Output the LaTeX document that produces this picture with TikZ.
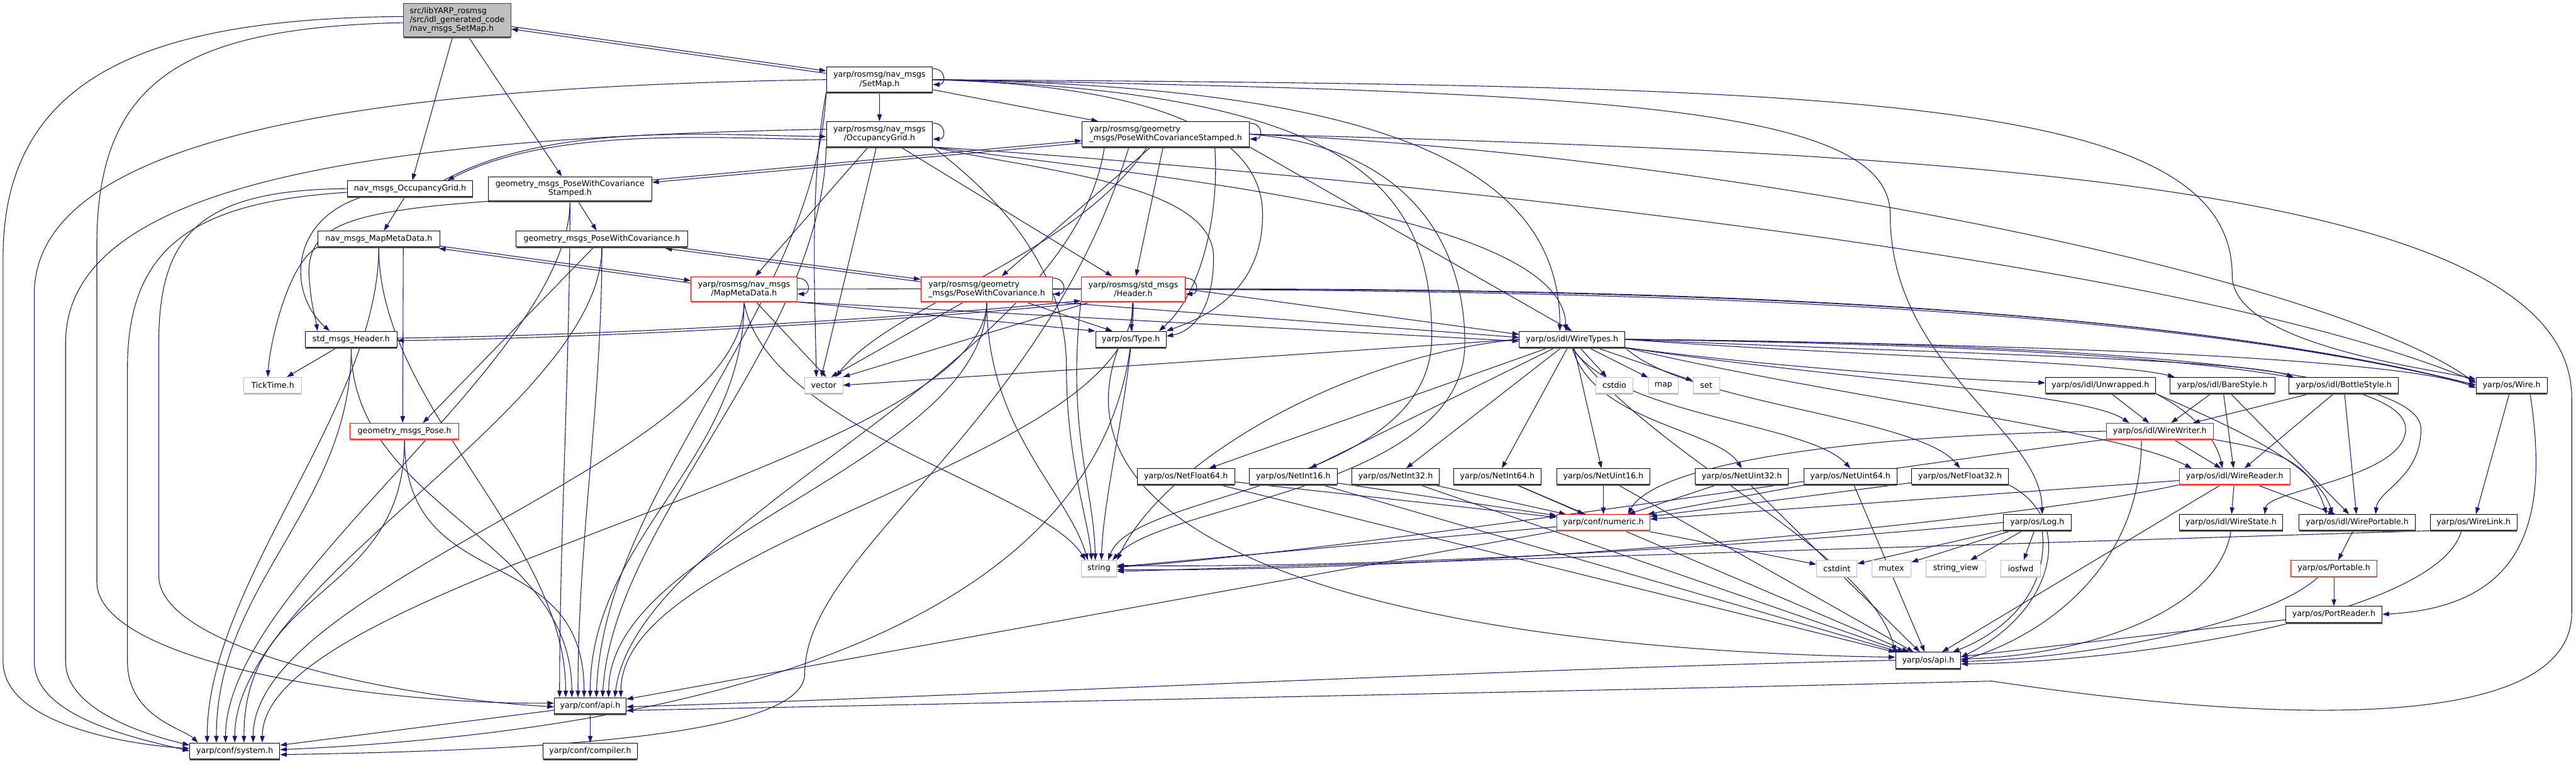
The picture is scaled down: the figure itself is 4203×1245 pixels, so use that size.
\documentclass[tikz,border=0pt]{standalone}
\usepackage{fontspec}
\setmainfont{DejaVu Sans}
\usetikzlibrary{arrows.meta,shadows}
\pgfdeclarelayer{edges}
\pgfsetlayers{edges,main}

\definecolor{edgeblue}{HTML}{191970}
\definecolor{sysgray}{HTML}{BFBFBF}

\tikzset{
  boxbase/.style={fill=white, line width=1pt, inner sep=2pt, minimum height=26pt,
    font=\fontsize{13}{14.5}\selectfont, align=center},
  hdr/.style={boxbase, draw=black,
    drop shadow={shadow xshift=0pt, shadow yshift=-2.5pt, fill=black!65, opacity=1}},
  hdrred/.style={boxbase, draw=red,
    drop shadow={shadow xshift=0pt, shadow yshift=-2.5pt, fill=red!55, opacity=1}},
  hdrsys/.style={boxbase, draw=sysgray,
    drop shadow={shadow xshift=0pt, shadow yshift=-2.5pt, fill=sysgray, opacity=1}},
  hdrroot/.style={boxbase, draw=black!75, fill=sysgray,
    drop shadow={shadow xshift=0pt, shadow yshift=-2.5pt, fill=black!65, opacity=1}},
  two/.style={minimum height=41pt},
  wd/.style={minimum width=#1},
  dep/.style={draw=edgeblue, line width=1.1pt, -{Triangle[length=11pt,width=7.5pt]}},
}

\begin{document}
\begin{tikzpicture}[x=1pt,y=1pt]
    \useasboundingbox (0,0) rectangle (4203,-1245);

    % --- 根节点与 yarp/rosmsg 头文件 ---
    \node[hdrroot, wd=175pt, minimum height=55pt, align=left] (root) at (746,-33)
      {src/libYARP\_rosmsg\\/src/idl\_generated\_code\\/nav\_msgs\_SetMap.h};
    \node[hdr, two, wd=173pt] (ySet) at (1435,-130) {yarp/rosmsg/nav\_msgs\\/SetMap.h};
    \node[hdr, two, wd=173pt] (yOcc) at (1435,-219) {yarp/rosmsg/nav\_msgs\\/OccupancyGrid.h};
    \node[hdr, two, wd=273pt, align=left] (yPWCS) at (1902,-219)
      {yarp/rosmsg/geometry\\\_msgs/PoseWithCovarianceStamped.h};

    % --- 旧式头文件 ---
    \node[hdr, wd=205pt] (nOcc) at (669,-308) {nav\_msgs\_OccupancyGrid.h};
    \node[hdr, wd=267pt, minimum height=39pt] (nPWCS) at (930,-308)
      {geometry\_msgs\_PoseWithCovariance\\Stamped.h};
    \node[hdr, wd=199pt] (nMMD) at (618,-390) {nav\_msgs\_MapMetaData.h};
    \node[hdr, wd=280pt] (nPWC) at (982,-390) {geometry\_msgs\_PoseWithCovariance.h};
    \node[hdrred, two, wd=173pt] (yMMD) at (1214,-472) {yarp/rosmsg/nav\_msgs\\/MapMetaData.h};
    \node[hdrred, two, wd=215pt, align=left] (yPWC) at (1610,-472)
      {yarp/rosmsg/geometry\\\_msgs/PoseWithCovariance.h};
    \node[hdrred, two, wd=170pt] (yHeader) at (1849,-472) {yarp/rosmsg/std\_msgs\\/Header.h};
    \node[hdr, wd=149pt] (nHeader) at (573,-554) {std\_msgs\_Header.h};
    \node[hdr, wd=115pt] (Type) at (1845,-554) {yarp/os/Type.h};
    \node[hdr, wd=172pt] (WireTypes) at (2565,-554) {yarp/os/idl/WireTypes.h};

    % --- 中间层 ---
    \node[hdrsys, wd=94pt] (TickTime) at (445,-629) {TickTime.h};
    \node[hdrsys, wd=62pt] (vector) at (1344,-629) {vector};
    \node[hdrsys, wd=61pt] (cstdio) at (2634,-629) {cstdio};
    \node[hdrsys, wd=49pt] (map) at (2714,-629) {map};
    \node[hdrsys, wd=43pt] (set) at (2784,-629) {set};
    \node[hdr, wd=179pt] (Unwrapped) at (3427,-629) {yarp/os/idl/Unwrapped.h};
    \node[hdr, wd=171pt] (BareStyle) at (3626,-629) {yarp/os/idl/BareStyle.h};
    \node[hdr, wd=179pt] (BottleStyle) at (3824,-629) {yarp/os/idl/BottleStyle.h};
    \node[hdr, wd=116pt] (Wire) at (4098,-629) {yarp/os/Wire.h};
    \node[hdrred, wd=177pt] (nPose) at (660,-704) {geometry\_msgs\_Pose.h};
    \node[hdrred, wd=174pt] (WireWriter) at (3524,-704) {yarp/os/idl/WireWriter.h};
    \foreach \n/\x/\w in {NetFloat64/1935/159pt, NetInt16/2110/143pt, NetInt32/2277/143pt,
        NetInt64/2443/143pt, NetUint16/2616/152pt, NetUint32/2842/152pt,
        NetUint64/3019/152pt, NetFloat32/3198/158pt}
      \node[hdr, wd=\w] (\n) at (\x,-778) {yarp/os/\n.h};
    \node[hdrred, wd=181pt] (WireReader) at (3646,-778) {yarp/os/idl/WireReader.h};

    % --- 底层 ---
    \node[hdrred, wd=152pt] (numeric) at (2616,-853) {yarp/conf/numeric.h};
    \node[hdr, wd=111pt] (Log) at (3324,-853) {yarp/os/Log.h};
    \node[hdr, wd=169pt] (WireState) at (3640,-853) {yarp/os/idl/WireState.h};
    \node[hdr, wd=190pt] (WirePortable) at (3846,-853) {yarp/os/idl/WirePortable.h};
    \node[hdr, wd=142pt] (WireLink) at (4036,-853) {yarp/os/WireLink.h};
    \node[hdrsys, wd=58pt] (string) at (1793,-928) {string};
    \node[hdrsys, wd=66pt] (cstdint) at (2997,-928) {cstdint};
    \node[hdrsys, wd=64pt] (mutex) at (3086,-928) {mutex};
    \node[hdrsys, wd=97pt] (stringview) at (3191,-928) {string\_view};
    \node[hdrsys, wd=65pt] (iosfwd) at (3297,-928) {iosfwd};
    \node[hdrred, wd=140pt] (Portable) at (3808,-928) {yarp/os/Portable.h};
    \node[hdr, wd=157pt] (PortReader) at (3808,-1003) {yarp/os/PortReader.h};
    \node[hdr, wd=106pt] (osapi) at (3146,-1078) {yarp/os/api.h};
    \node[hdr, wd=117pt] (confapi) at (963,-1152) {yarp/conf/api.h};
    \node[hdr, wd=147pt] (system) at (383,-1226) {yarp/conf/system.h};
    \node[hdr, wd=153pt] (compiler) at (963,-1226) {yarp/conf/compiler.h};

    \begin{pgfonlayer}{edges}
    % --- 自包含回环 ---
    \foreach \n in {ySet,yOcc,yPWCS,yMMD,yPWC,yHeader}
      \draw[dep] ([yshift=-3pt]\n.north east) .. controls +(22,0) and +(22,0) .. ([yshift=-8pt]\n.east);

    % --- 互相包含 (双线) ---
    \foreach \a/\b in {root/ySet, nPWCS/yPWCS, nMMD/yMMD, nPWC/yPWC}{
      \draw[dep, transform canvas={yshift=2pt}] (\a) -- (\b);
      \draw[dep, transform canvas={yshift=-2pt}] (\b) -- (\a);
    }
    \draw[dep] ([xshift=-48pt]nOcc.north east) .. controls (900,-200) and (1150,-220) .. ([yshift=-4pt]yOcc.west);
    \draw[dep] ([yshift=-9pt]yOcc.west) .. controls (1150,-225) and (900,-208) .. ([xshift=-42pt]nOcc.north east);
    \draw[dep, transform canvas={yshift=2pt}] (nHeader.east) .. controls (1000,-550) and (1500,-520) .. (yHeader.south west);
    \draw[dep, transform canvas={yshift=-2pt}] (yHeader.south west) .. controls (1500,-520) and (1000,-550) .. (nHeader.east);

    % --- 根节点 / 旧式头文件之间 ---
    \draw[dep] (root) -- (nOcc);
    \draw[dep] (root) -- (nPWCS);
    \draw[dep] (nOcc) -- (nMMD);
    \draw[dep] ([xshift=25pt]nOcc.south west) .. controls (470,-360) and (470,-480) .. ([xshift=-35pt]nHeader.north);
    \draw[dep] (nPWCS) -- (nPWC);
    \draw[dep] ([xshift=10pt]nPWCS.south west) .. controls (560,-345) and (495,-370) .. (505,-460)
      .. controls (508,-500) and (515,-520) .. ([xshift=-55pt]nHeader.north);
    \draw[dep] ([xshift=40pt]nMMD.south) -- ([xshift=-3pt]nPose.north);
    \draw[dep] (nMMD.south west) .. controls (470,-430) and (440,-560) .. ([xshift=-8pt]TickTime.north);
    \draw[dep] (nPWC) -- ([xshift=30pt]nPose.north);
    \draw[dep] (nHeader) -- (TickTime);

    % --- yarp/rosmsg 头文件之间 ---
    \draw[dep] (ySet) -- (yOcc);
    \draw[dep] (ySet) -- (yPWCS);
    \draw[dep] (yOcc) -- (yMMD);
    \draw[dep] (yOcc) -- (yHeader);
    \draw[dep] (yPWCS) -- (yPWC);
    \draw[dep] (yPWCS) -- (yHeader);

    % --- 到 yarp/conf/system.h ---
    \draw[dep] ([yshift=6pt]root.west) .. controls (250,-30) and (5,-120) .. (5,-420) -- (5,-1080)
      .. controls (5,-1180) and (200,-1215) .. ([yshift=4pt]system.west);
    \draw[dep] (ySet.west) .. controls (700,-140) and (56,-200) .. (56,-480) -- (56,-1080)
      .. controls (56,-1170) and (220,-1205) .. (system.west);
    \draw[dep] ([yshift=8pt]yOcc.west) .. controls (600,-225) and (107,-300) .. (107,-560) -- (107,-1080)
      .. controls (107,-1160) and (240,-1200) .. ([yshift=-4pt]system.north west);
    \draw[dep] ([yshift=-6pt]nOcc.west) .. controls (320,-330) and (208,-400) .. (208,-600) -- (208,-1080)
      .. controls (208,-1170) and (300,-1190) .. ([xshift=-60pt]system.north);
    \foreach \s/\d in {nMMD/-45pt, nHeader/-30pt, nPWCS/-15pt, nPWC/0pt, nPose/15pt, yMMD/30pt, yPWC/45pt}
      \draw[dep] (\s.south) .. controls +(0,-260) and +(0,260) .. ([xshift=\d]system.north);
    \draw[dep] (yHeader.south) .. controls (1849,-1000) and (1200,-1190) .. ([yshift=2pt]system.east);
    \draw[dep] ([xshift=-60pt]yPWCS.south) .. controls (1700,-700) and (1313,-900) .. (1313,-1100)
      .. controls (1313,-1200) and (900,-1225) .. ([yshift=-6pt]system.east);
    \draw[dep] (confapi) -- (system);
    \draw[dep] (confapi) -- (compiler);

    % --- 到 yarp/conf/api.h ---
    \draw[dep] ([yshift=-4pt]root.west) .. controls (300,-45) and (158,-130) .. (158,-400) -- (158,-950)
      .. controls (158,-1080) and (600,-1150) .. ([yshift=4pt]confapi.west);
    \draw[dep] (nOcc.west) .. controls (330,-310) and (259,-380) .. (259,-560) -- (259,-940)
      .. controls (259,-1060) and (650,-1140) .. ([yshift=-2pt]confapi.west);
    \foreach \s/\d in {nPWCS/-50pt, nMMD/-40pt, nHeader/-30pt, nPWC/-20pt, nPose/-10pt, yMMD/0pt,
        yPWC/30pt, yHeader/50pt}
      \draw[dep] (\s.south) .. controls +(0,-260) and +(0,260) .. ([xshift=\d]confapi.north);
    \draw[dep] (ySet.south west) .. controls (1330,-500) and (985,-800) .. ([xshift=10pt]confapi.north);
    \draw[dep] (yOcc.south west) .. controls (1340,-560) and (1000,-850) .. ([xshift=20pt]confapi.north);
    \draw[dep] ([xshift=-100pt]yPWCS.south) .. controls (1750,-600) and (1040,-850) .. ([xshift=40pt]confapi.north);
    \draw[dep] (yPWCS.east) .. controls (3200,-250) and (4196,-300) .. (4196,-650) -- (4196,-1000)
      .. controls (4196,-1200) and (3700,-1180) .. (3250,-1112)
      .. controls (2500,-1130) and (1500,-1150) .. ([yshift=-8pt]confapi.east);
    \draw[dep] (numeric) -- (confapi);
    \draw[dep] (osapi.west) .. controls (2500,-1090) and (1500,-1140) .. ([yshift=-2pt]confapi.east);

    % --- 到 vector ---
    \draw[dep] (ySet.south west) .. controls (1320,-300) and (1330,-500) .. ([xshift=-12pt]vector.north);
    \draw[dep] (yOcc) -- ([xshift=-4pt]vector.north);
    \draw[dep] (yMMD) -- ([xshift=4pt]vector.north);
    \draw[dep] (yPWC) -- ([xshift=12pt]vector.north);
    \draw[dep] (yHeader) -- (vector.north east);
    \draw[dep] ([xshift=-30pt]yPWCS.south) .. controls (1750,-420) and (1450,-500) .. ([xshift=20pt]vector.north);
    \draw[dep] (WireTypes.west) -- (vector.east);

    % --- 到 string ---
    \draw[dep] (ySet.east) .. controls (2200,-150) and (2336,-300) .. (2336,-550)
      .. controls (2336,-800) and (1850,-800) .. ([xshift=15pt]string.north);
    \draw[dep] (yOcc.south east) .. controls (1600,-300) and (1740,-420) .. (1740,-600)
      .. controls (1740,-750) and (1776,-850) .. ([xshift=-12pt]string.north);
    \draw[dep] (yMMD.south) .. controls (1250,-700) and (1700,-800) .. ([xshift=-22pt]string.north);
    \draw[dep] (yPWC.south) .. controls (1610,-700) and (1740,-800) .. ([xshift=-18pt]string.north);
    \draw[dep] (yHeader.south west) .. controls (1740,-700) and (1785,-800) .. ([xshift=-6pt]string.north);
    \draw[dep] (Type.south) .. controls (1830,-700) and (1800,-820) .. ([xshift=4pt]string.north);
    \draw[dep] (yPWCS.east) .. controls (2300,-240) and (2390,-400) .. (2390,-560)
      .. controls (2390,-800) and (1900,-820) .. ([xshift=22pt]string.north);
    \draw[dep] (WireTypes.west) .. controls (2200,-580) and (1900,-750) .. (string.north east);
    \draw[dep] (numeric) -- (string);
    \draw[dep] (WireWriter.south west) .. controls (3100,-760) and (2200,-900) .. ([yshift=2pt]string.east);
    \draw[dep] (WireReader.south west) .. controls (3300,-850) and (2400,-935) .. ([yshift=-2pt]string.east);
    \draw[dep] (Log.west) .. controls (3000,-880) and (2300,-930) .. ([yshift=5pt]string.east);
    \draw[dep] (WireLink.south west) -- ([yshift=-5pt]string.east);

    % --- 到 yarp/os/Type.h ---
    \draw[dep] (yHeader) -- (Type);
    \draw[dep] (yPWC) -- ([xshift=-30pt]Type.north);
    \draw[dep] (yMMD.south east) -- (Type.north west);
    \draw[dep] (ySet.east) .. controls (1700,-135) and (2060,-160) .. (2060,-350)
      .. controls (2060,-480) and (1960,-520) .. (Type.north east);
    \draw[dep] (yOcc.south east) .. controls (1700,-280) and (1980,-300) .. (1980,-420)
      .. controls (1980,-500) and (1950,-540) .. ([yshift=5pt]Type.east);
    \draw[dep] ([xshift=80pt]yPWCS.south) .. controls (1990,-350) and (1960,-480) .. ([xshift=-12pt]Type.north east);

    % --- 到 yarp/os/idl/WireTypes.h ---
    \draw[dep] (ySet.east) .. controls (2200,-140) and (2545,-250) .. ([xshift=-20pt]WireTypes.north);
    \draw[dep] (yOcc.south east) .. controls (1900,-290) and (2550,-350) .. ([xshift=-10pt]WireTypes.north);
    \draw[dep] (yPWCS.south east) -- (WireTypes.north);
    \draw[dep] (yMMD.south east) -- ([yshift=-3pt]WireTypes.west);
    \draw[dep] (yPWC.south east) -- ([yshift=3pt]WireTypes.west);
    \draw[dep] (yHeader.east) -- ([yshift=8pt]WireTypes.west);

    % --- 到 yarp/os/Wire.h ---
    \draw[dep] (ySet.east) .. controls (3000,-140) and (3642,-150) .. (3642,-450)
      .. controls (3642,-560) and (3950,-600) .. ([yshift=10pt]Wire.west);
    \draw[dep] (yOcc.south east) .. controls (2000,-270) and (3500,-400) .. ([yshift=6pt]Wire.west);
    \draw[dep] (yPWCS.east) .. controls (2800,-250) and (3800,-450) .. ([yshift=3pt]Wire.west);
    \draw[dep] (yMMD.east) .. controls (2300,-470) and (3400,-470) .. (Wire.west);
    \draw[dep] (yPWC.east) .. controls (2500,-470) and (3450,-480) .. (Wire.west);
    \draw[dep] (yHeader.east) .. controls (2600,-470) and (3500,-490) .. (Wire.west);

    % --- 到 yarp/os/Log.h ---
    \draw[dep] (ySet.east) .. controls (2600,-150) and (3084,-170) .. (3084,-350)
      .. controls (3084,-600) and (3330,-700) .. ([xshift=8pt]Log.north);

    % --- WireTypes.h 的展开 ---
    \foreach \t in {cstdio, map, set, NetFloat64, NetInt16, NetInt32, NetInt64, NetUint16}
      \draw[dep] (WireTypes) -- (\t);
    \draw[dep] (WireTypes.south) .. controls (2600,-690) and (2800,-700) .. (NetUint32.north);
    \draw[dep] (WireTypes.south) .. controls (2640,-680) and (2950,-690) .. (NetUint64.north);
    \draw[dep] (WireTypes.south east) .. controls (2750,-660) and (3130,-680) .. (NetFloat32.north);
    \draw[dep] (WireTypes.south east) .. controls (2900,-600) and (3200,-620) .. ([yshift=4pt]Unwrapped.west);
    \draw[dep] (WireTypes.east) .. controls (3000,-580) and (3450,-590) .. ([xshift=8pt]BareStyle.north west);
    \draw[dep] (WireTypes.east) .. controls (3100,-575) and (3650,-585) .. ([xshift=8pt]BottleStyle.north west);
    \draw[dep] (WireTypes.east) .. controls (3200,-560) and (3900,-580) .. ([yshift=-4pt]Wire.west);
    \draw[dep] (WireTypes.south east) .. controls (3000,-620) and (3400,-640) .. ([xshift=-50pt]WireWriter.north);
    \draw[dep] (WireTypes.south east) .. controls (3000,-650) and (3450,-700) .. ([xshift=-70pt]WireReader.north);
    \draw[dep] (WireTypes.east) .. controls (3400,-565) and (3925,-600) .. (3925,-700)
      .. controls (3925,-780) and (3700,-800) .. ([xshift=55pt]WireState.north);
    \draw[dep] (WireTypes.east) .. controls (3400,-560) and (3950,-600) .. (3950,-700)
      .. controls (3950,-780) and (3880,-800) .. ([xshift=30pt]WirePortable.north);
    \draw[dep] (WireTypes.south) .. controls (2700,-750) and (3050,-900) .. (osapi.north west);

    % --- idl 风格头文件 ---
    \draw[dep] (Unwrapped) -- (WireWriter);
    \draw[dep] (Unwrapped.south east) .. controls (3570,-670) and (3615,-710) .. ([xshift=-20pt]WireReader.north);
    \draw[dep] (Unwrapped.south east) .. controls (3650,-700) and (3780,-760) .. ([xshift=-40pt]WirePortable.north);
    \foreach \s in {BareStyle, BottleStyle}{
      \draw[dep] (\s) -- (WireWriter);
      \draw[dep] (\s) -- (WireReader);
      \draw[dep] (\s) -- (WirePortable);
    }
    \draw[dep] (WireWriter) -- (WireReader);
    \draw[dep] (WireWriter.south east) .. controls (3708,-734) and (3768,-748) .. ([xshift=-50pt]WirePortable.north);
    \draw[dep] (WireWriter.west) .. controls (3000,-710) and (2700,-760) .. ([xshift=40pt]numeric.north);
    \draw[dep] ([xshift=-30pt]WireWriter.south) .. controls (3494,-950) and (3300,-1050) .. (osapi.east);
    \draw[dep] (WireReader) -- (WireState);
    \draw[dep] (WireReader) -- (WirePortable);
    \draw[dep] (WireReader) -- (numeric);
    \draw[dep] (WireReader) -- (osapi);

    % --- Net*.h ---
    \foreach \n in {NetFloat64, NetInt16, NetInt32, NetInt64, NetUint16, NetUint32, NetUint64, NetFloat32}
      \draw[dep] (\n) -- (numeric);
    \foreach \n in {NetFloat64, NetInt16, NetInt32, NetInt64, NetUint16, NetUint32, NetUint64}
      \draw[dep] (\n) -- (osapi);
    \draw[dep] (NetFloat32.south east) .. controls (3390,-850) and (3350,-1000) .. ([yshift=5pt]osapi.east);

    % --- 底层依赖 ---
    \draw[dep] (numeric) -- (cstdint);
    \foreach \t in {cstdint, mutex, stringview, iosfwd}
      \draw[dep] (Log) -- (\t);
    \draw[dep] ([xshift=8pt]Log.south) .. controls (3345,-980) and (3250,-1040) .. ([xshift=40pt]osapi.north);
    \draw[dep] (WireState.south) .. controls (3620,-1000) and (3400,-1070) .. ([yshift=2pt]osapi.east);
    \draw[dep] (WirePortable) -- (Portable);
    \draw[dep] (Portable) -- (PortReader);
    \draw[dep] ([xshift=-25pt]Portable.south) .. controls (3700,-1020) and (3400,-1075) .. ([yshift=-2pt]osapi.east);
    \draw[dep] (PortReader) -- (osapi);
    \draw[dep] (Wire) -- (WireLink);
    \draw[dep] ([xshift=30pt]Wire.south) .. controls (4160,-850) and (4120,-990) .. (PortReader.east);
    \draw[dep] ([xshift=-20pt]WireLink.south) .. controls (3980,-1000) and (3500,-1080) .. ([yshift=-6pt]osapi.east);
    \draw[dep] ([xshift=-20pt]Type.south) .. controls (1700,-900) and (2300,-1060) .. ([yshift=5pt]osapi.west);
    \end{pgfonlayer}

\end{tikzpicture}
\end{document}
